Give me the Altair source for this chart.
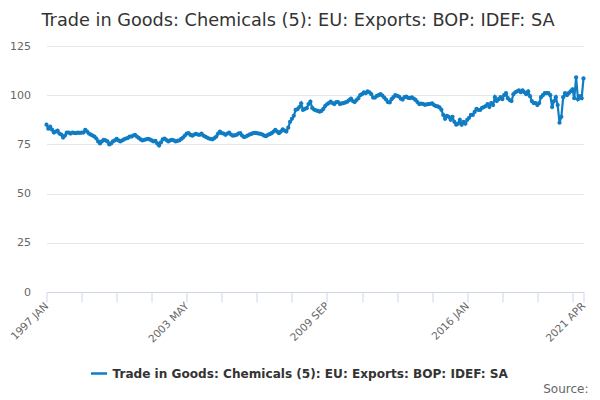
import altair as alt
import pandas as pd

MONTHS = ["JAN", "FEB", "MAR", "APR", "MAY", "JUN", "JUL", "AUG", "SEP", "OCT", "NOV", "DEC"]

v1997 = [85, 83, 84, 82.5, 81, 81.5, 82, 80.5, 80, 78.5, 79.5, 81]
v1998 = [81, 80.5, 81, 80.8, 80.7, 81, 80.8, 81, 81, 82.4, 81.5, 80.5]
v1999 = [80, 79.5, 79, 78, 76.5, 75.5, 76.5, 77.3, 77, 76.5, 75, 75.5]
v2000 = [76.5, 77, 77.8, 77, 76.5, 77, 77.5, 78, 78.2, 79, 79, 79.5]
v2001 = [79.8, 79, 78.3, 77.5, 77, 77.3, 77.6, 77.8, 77.5, 77, 76.5, 76.8]
v2002 = [75.5, 74.4, 76, 77.5, 78, 77.2, 76.5, 77, 77.3, 77, 76.5, 76.8]
v2003 = [77, 77.8, 78.5, 79.5, 80.5, 80.7, 79.8, 79.4, 80, 80.4, 80, 79.9]
v2004 = [80.5, 79.5, 79, 78.5, 78, 77.8, 77.6, 78.2, 79, 80.5, 81.5, 80.7]
v2005 = [80.5, 79.9, 80.5, 81, 80, 79.4, 79.6, 79.9, 80.5, 80.7, 79.5, 78.7]
v2006 = [79, 79.5, 80, 80.3, 80.7, 80.9, 80.7, 80.5, 80.4, 80, 79.4, 79.2]
v2007 = [79.9, 80.2, 80.7, 81.5, 82.4, 81.5, 80.7, 81.5, 82.7, 82, 81.5, 83.5]
v2008 = [86.5, 88, 89.5, 92.5, 92.9, 94, 95.9, 92.5, 93, 93.4, 95.5, 96.8]
v2009 = [93.5, 92.7, 92.3, 92, 91.6, 92, 93, 94.5, 95.4, 96, 96.7, 96]
v2010 = [95.5, 96.5, 96.5, 95.5, 95.8, 96, 96.3, 96.7, 97.5, 98.3, 97, 96.5]
v2011 = [97.5, 98.5, 100, 100.5, 101.5, 101, 102, 101.5, 100.5, 98.8, 98.8, 99.6]
v2012 = [100, 100.6, 99.8, 98.8, 97.8, 96.5, 96.3, 98, 99, 100, 99.7, 99.3]
v2013 = [98.2, 97.8, 99, 99.3, 98.6, 98.5, 98.9, 98.3, 97.6, 96.5, 95.5, 95.7]
v2014 = [95.6, 95.1, 95.3, 95.5, 95.6, 95.8, 95, 94.5, 94.3, 93.8, 92.6, 90]
v2015 = [88, 89.5, 89, 87.5, 89, 86.5, 85, 85.5, 87.5, 85, 86.5, 85.5]
v2016 = [87.5, 88.5, 90, 90, 91.5, 93, 92.5, 92.5, 93.5, 94, 94.5, 95.5]
v2017 = [94, 96, 95, 99, 97, 98, 99, 98, 100, 101, 98.5, 97.5]
v2018 = [97, 100.5, 101.5, 102, 102.5, 101.5, 102.5, 101.5, 100.5, 102, 99.5, 97]
v2019 = [96, 96, 95, 96, 99, 100, 101, 101, 101, 100, 94, 97]
v2020 = [99, 95, 86, 89, 99, 101, 100, 101, 102, 103, 98.5, 109]
v2021 = [98, 99.5, 98.5, 108.5]

yearly = [v1997, v1998, v1999, v2000, v2001, v2002, v2003, v2004, v2005, v2006,
          v2007, v2008, v2009, v2010, v2011, v2012, v2013, v2014, v2015, v2016,
          v2017, v2018, v2019, v2020, v2021]

SERIES = "Trade in Goods: Chemicals (5): EU: Exports: BOP: IDEF: SA"
shown_labels = ["1997 JAN", "2003 MAY", "2009 SEP", "2016 JAN", "2021 APR"]

periods, values = [], []
for k, vals in enumerate(yearly):
    for m, v in enumerate(vals):
        periods.append(f"{1997 + k} {MONTHS[m]}")
        values.append(v)

df = pd.DataFrame({"period": periods, "value": values, "series": SERIES})

tick_values = [periods[i] for i in range(0, len(periods), 19)] + [periods[-1]]
label_expr = "indexof(" + str(shown_labels) + ", datum.value) >= 0 ? datum.value : ''"

line_color = "#0f7cc3"

base = alt.Chart(df).encode(
    x=alt.X("period:O", sort=periods,
            scale=alt.Scale(type="point", padding=0),
            axis=alt.Axis(title=None, values=tick_values, labelExpr=label_expr,
                          labelAngle=-45, labelAlign="right", labelBaseline="middle",
                          labelOverlap=False, labelFont="DejaVu Sans", labelFontSize=10.5,
                          labelColor="#666666", labelPadding=2,
                          domainColor="#ccd6eb", tickColor="#ccd6eb", tickSize=10,
                          grid=False)),
    y=alt.Y("value:Q", scale=alt.Scale(domain=[0, 125], nice=False),
            axis=alt.Axis(title=None, values=[0, 25, 50, 75, 100, 125],
                          labelFont="DejaVu Sans", labelFontSize=11, labelColor="#666666",
                          labelPadding=16, domain=False, ticks=False,
                          gridColor="#e6e6e6", gridWidth=1)),
    color=alt.Color("series:N", scale=alt.Scale(range=[line_color]),
                    legend=alt.Legend(title=None, orient="none", legendX=43, legendY=318,
                                      symbolType="stroke", symbolStrokeWidth=2.5,
                                      symbolSize=260, labelFont="DejaVu Sans",
                                      labelFontWeight="bold", labelFontSize=12.1,
                                      labelLimit=0, labelColor="#333333", padding=0)),
)

line = base.mark_line(strokeWidth=2.2,
                      point=alt.OverlayMarkDef(size=18, filled=True, color=line_color))

source_df = pd.DataFrame({"label": ["Source:"]})
source = alt.Chart(source_df).mark_text(align="right", baseline="alphabetic", font="DejaVu Sans",
                                        fontSize=12, color="#666666").encode(
    x=alt.value(542), y=alt.value(347), text="label:N")

chart = alt.layer(line, source).properties(
    width=537, height=246,
    autosize=alt.AutoSizeParams(type="none"),
    padding={"left": 38.5, "top": 38, "right": 8, "bottom": 106},
    title=alt.TitleParams(SERIES, font="DejaVu Sans", fontSize=17.7, fontWeight="normal",
                          color="#333333", anchor="middle", dx=-17, offset=10),
).configure_view(stroke=None)

chart.save("out.html", embed_options={"renderer": "svg", "actions": False})
